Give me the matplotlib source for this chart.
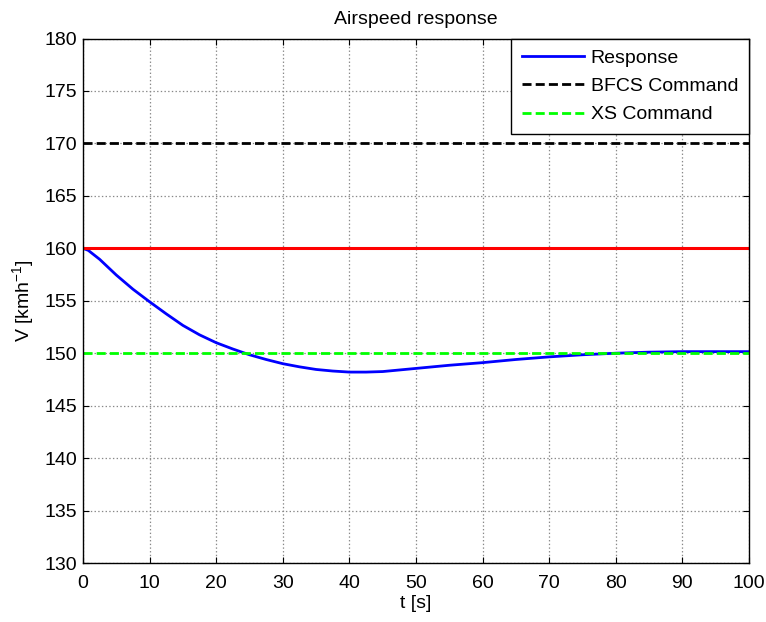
import matplotlib
matplotlib.use("Agg")
import matplotlib.pyplot as plt
import numpy as np

plt.rcParams['font.family'] = ['Liberation Sans', 'DejaVu Sans']
plt.rcParams['mathtext.default'] = 'regular'
plt.rcParams['lines.scale_dashes'] = False

# Data
t = [0, 0.8, 2.5, 5, 7.5, 10, 12.5, 15, 17.5, 20, 22.5, 25, 27.5, 30, 32.5, 35,
     37.5, 40, 42.5, 45, 47.5, 50, 55, 60, 65, 70, 75, 80, 85, 90, 100]
v_response = [160, 159.8, 158.95, 157.45, 156.1, 154.9, 153.75, 152.65, 151.75,
              151.0, 150.4, 149.85, 149.4, 149.0, 148.7, 148.45, 148.3, 148.2,
              148.2, 148.25, 148.4, 148.55, 148.85, 149.1, 149.4, 149.65,
              149.85, 150.0, 150.1, 150.15, 150.15]
t_cmd = [0, 100]
v_bfcs = [170, 170]
v_xs = [150, 150]
v_initial = [160, 160]

xticks = list(range(0, 101, 10))
yticks = list(range(130, 181, 5))

fig = plt.figure(figsize=(7.66, 6.22), dpi=100)
ax = fig.add_axes([83/766, 1 - 563/622, (749-83)/766, (563-38.5)/622])

ax.plot(t, v_response, color='#0000FF', lw=2.0, label='Response')
ax.plot(t_cmd, v_bfcs, color='black', lw=2.0, linestyle=(0, (6.5, 3)), label='BFCS Command')
ax.plot(t_cmd, v_xs, color='#00FF00', lw=2.0, linestyle=(0, (6.5, 3)), label='XS Command')
ax.plot(t_cmd, v_initial, color='#FF0000', lw=2.2, label='_nolegend_')

ax.set_xlim(0, 100)
ax.set_ylim(130, 180)
ax.set_xticks(xticks)
ax.set_yticks(yticks)
ax.grid(True, color='#888888', linestyle=':', lw=0.9)
ax.tick_params(direction='in', length=4, width=0.8, top=True, right=True,
               labelsize=14, colors='black')
ax.tick_params(axis='x', pad=8.5)
ax.tick_params(axis='y', pad=4)
for s in ax.spines.values():
    s.set_linewidth(1.0)

ax.set_title('Airspeed response', fontsize=14, pad=10.5)
ax.set_xlabel('t [s]', fontsize=14, labelpad=2)
ax.set_ylabel('V [kmh$^{-1}$]', fontsize=14, labelpad=6)

leg = ax.legend(loc='upper right', bbox_to_anchor=(1, 1), borderaxespad=0,
                fontsize=14, frameon=True, fancybox=False, handlelength=3.2,
                handletextpad=0.35, labelspacing=0.55, borderpad=0.55)
leg.get_frame().set_edgecolor('black')
leg.get_frame().set_linewidth(1.0)
leg.get_frame().set_alpha(1)

fig.savefig('out.png', dpi=100)
